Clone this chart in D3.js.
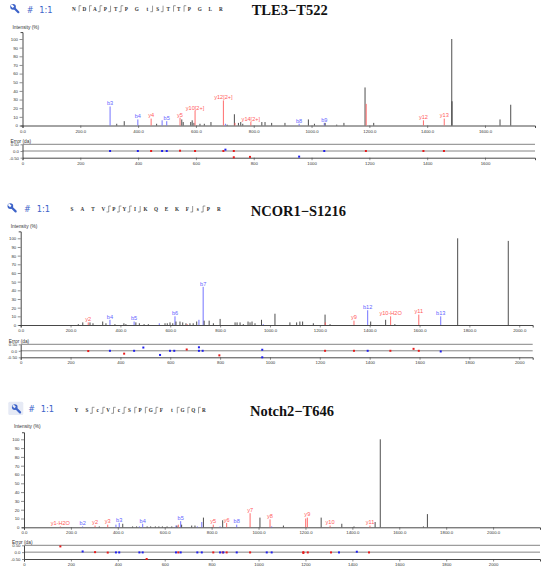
<!DOCTYPE html>
<html>
<head>
<meta charset="utf-8">
<script src="https://cdn.jsdelivr.net/npm/d3@7"></script>
<style>
  body { margin: 0; background: #fff; }
  svg { display: block; }
</style>
</head>
<body>
<div id="chart"></div>
<script>
// ---- data: [m/z, intensity %, ion type, label]  (n = unmatched, b = b ion, y = y ion)
const TLE3_TITLE = "TLE3\u2212T522";
const TLE3_SEQ = "NDAPTPGtSTTPGLR";
const TLE3_MZMAX = 1773;
const TLE3_PEAKS = [
  [303, 22, "b", "b3"], [326, 2, "n"], [352, 5, "n"], [399, 7, "b", "b4"],
  [445, 8, "y", "y4"], [464, 2, "n"], [483, 6, "b"], [499, 5, "b", "b5"],
  [545, 9, "y", "y5"], [551, 7, "n"], [556, 4, "n"], [582, 4, "n"], [587, 6, "n"],
  [593, 3, "n"], [597, 17, "y", "y10[2+]"], [614, 2, "n"], [629, 2, "n"],
  [652, 4, "n"], [695, 29, "y", "y12[2+]"], [702, 2, "b"], [708, 1, "n"],
  [733, 13, "n"], [735, 3, "y"], [747, 3, "n"], [755, 4, "n"], [762, 2, "n"],
  [790, 4, "y", "y14[2+]"], [828, 4, "n"], [839, 4, "n"], [862, 3, "n"],
  [908, 3, "n"], [957, 2, "b", "b8"], [989, 7, "n"], [1010, 2, "n"],
  [1044, 3, "b", "b9"], [1047, 3, "n"], [1087, 1, "n"], [1112, 3, "n"],
  [1185, 44, "n"], [1189, 25, "y"], [1215, 3, "n"], [1387, 6, "y", "y12"],
  [1459, 8, "y", "y13"], [1485, 100, "n"], [1486, 28, "n"], [1652, 7, "n"],
  [1689, 24, "n"]
];
// [m/z, error (da), ion type]
const TLE3_ERRORS = [
  [303, 0, "b"], [399, 0, "b"], [445, 0, "y"], [483, 0, "b"], [499, 0, "b"],
  [545, 0.02, "y"], [597, 0, "y"], [695, 0, "y"], [702, 0.1, "b"], [731, 0, "y"],
  [731, -0.47, "y"], [787, -0.44, "y"], [957, -0.42, "b"], [1044, 0, "b"],
  [1188, 0, "y"], [1387, 0, "y"], [1458, 0, "y"]
];

const NCOR1_TITLE = "NCOR1\u2212S1216";
const NCOR1_SEQ = "SATVPYIKQEKFsPR";
const NCOR1_MZMAX = 2054;
const NCOR1_PEAKS = [
  [231, 1, "n"], [249, 3, "n"], [271, 3, "y", "y2"], [278, 3, "n"], [290, 2, "n"],
  [329, 4, "n"], [342, 2, "n"], [358, 6, "b", "b4"], [378, 1, "n"], [414, 2, "n"],
  [422, 1, "n"], [455, 4, "b", "b5"], [462, 3, "n"], [476, 2, "n"], [495, 1, "n"],
  [512, 1, "n"], [556, 2, "b"], [579, 2, "n"], [588, 2, "n"], [599, 3, "n"],
  [610, 2, "n"], [619, 10, "b", "b6"], [623, 4, "n"], [639, 4, "n"], [650, 3, "n"],
  [663, 2, "n"], [668, 1, "y"], [679, 2, "n"], [692, 2, "n"], [706, 4, "n"],
  [715, 6, "b"], [732, 44, "b", "b7"], [736, 5, "n"], [756, 5, "n"], [773, 2, "n"],
  [800, 7, "n"], [860, 3, "n"], [868, 3, "n"], [880, 3, "n"], [893, 1, "n"],
  [912, 4, "n"], [920, 3, "n"], [928, 4, "n"], [940, 2, "n"], [966, 6, "n"],
  [973, 1, "b"], [1020, 13, "n"], [1080, 3, "n"], [1107, 3, "n"], [1120, 4, "n"],
  [1131, 4, "n"], [1174, 2, "n"], [1221, 12, "n"], [1222, 3, "y"], [1241, 1, "n"],
  [1337, 5, "y", "y9"], [1392, 17, "b", "b12"], [1404, 4, "n"], [1464, 6, "n"],
  [1484, 10, "y", "y10-H2O"], [1501, 1, "n"], [1597, 12, "y", "y11"],
  [1685, 10, "b", "b13"], [1753, 100, "n"], [1956, 97, "n"]
];
const NCOR1_ERRORS = [
  [271, -0.02, "y"], [358, 0, "b"], [415, -0.22, "y"], [455, 0, "b"], [492, 0.25, "b"],
  [559, -0.32, "b"], [599, 0, "b"], [616, 0, "b"], [666, 0.1, "y"], [715, 0.27, "b"],
  [715, 0, "b"], [730, 0, "b"], [797, -0.35, "y"], [969, 0.08, "b"], [969, -0.5, "b"],
  [1221, 0, "y"], [1337, 0, "y"], [1392, 0, "b"], [1483, 0, "y"], [1576, 0.15, "y"],
  [1597, 0, "y"], [1685, -0.05, "b"]
];

const NOTCH2_TITLE = "Notch2\u2212T646";
const NOTCH2_SEQ = "YScVcSPGFtGQR";
const NOTCH2_MZMAX = 2200;
const NOTCH2_PEAKS = [
  [155, 1, "y", "y1-H2O"], [250, 1, "b", "b2"], [303, 2, "y", "y2"], [321, 1, "n"],
  [357, 3, "y", "y3"], [392, 3, "b"], [406, 5, "b", "b3"], [421, 4, "n"], [463, 1, "n"],
  [480, 1, "n"], [492, 1, "b"], [506, 4, "b", "b4"], [525, 1, "n"], [540, 1, "n"],
  [560, 1, "n"], [575, 1, "n"], [590, 1, "n"], [610, 1, "n"], [630, 1, "n"],
  [648, 2, "b"], [652, 2, "n"], [658, 3, "y"], [668, 7, "b", "b5"], [672, 3, "n"],
  [715, 2, "n"], [729, 2, "n"], [739, 1, "b"], [758, 6, "b"], [765, 11, "n"],
  [807, 3, "y", "y5"], [836, 1, "b"], [847, 8, "n"], [864, 5, "y", "y6"],
  [907, 3, "b", "b8"], [964, 16, "y", "y7"], [1006, 11, "n"], [1049, 9, "y", "y8"],
  [1056, 1, "b"], [1106, 2, "n"], [1201, 10, "y"], [1208, 11, "y", "y9"],
  [1267, 11, "n"], [1305, 2, "y", "y10"], [1355, 4, "n"], [1407, 1, "n"],
  [1475, 2, "y", "y11"], [1497, 6, "n"], [1519, 100, "n"], [1703, 1, "n"],
  [1720, 15, "n"]
];
const NOTCH2_ERRORS = [
  [155, 0.42, "y"], [250, 0.05, "b"], [303, 0, "y"], [357, -0.03, "y"], [392, -0.02, "b"],
  [406, -0.02, "b"], [492, -0.02, "b"], [506, -0.02, "b"], [523, -0.5, "y"],
  [648, -0.02, "b"], [658, -0.02, "y"], [668, -0.02, "b"], [739, -0.02, "b"],
  [758, -0.02, "b"], [807, -0.02, "y"], [836, -0.02, "b"], [847, -0.02, "y"],
  [850, -0.02, "b"], [864, -0.02, "y"], [907, -0.02, "b"], [964, -0.02, "y"],
  [1035, -0.02, "b"], [1056, -0.02, "b"], [1191, 0, "y"], [1191, -0.06, "y"],
  [1210, -0.02, "y"], [1309, -0.02, "y"], [1343, -0.02, "b"], [1419, 0.03, "b"],
  [1471, -0.02, "y"]
];

// ---- layout (pixel positions of each panel)
const LAYOUTS = [
  { x0: 22.5, x1: 535, head: 12.7, intY: 29, y100: 39, base: 125.5,
    e50: 144.3, e0: 151, em50: 157.7, seqX: 73.8, seqDx: 10.5, seqY: 10.7,
    wrench: [10, 3.8], hashX: 26.7, ratioX: 39.3, titleX: 251.7, titleY: 15.3, box: false },
  { x0: 20.7, x1: 532.7, head: 211.7, intY: 227.5, y100: 238.3, base: 325,
    e50: 344.3, e0: 350.3, em50: 357.3, seqX: 72, seqDx: 10.49, seqY: 211,
    wrench: [7.3, 203], hashX: 24, ratioX: 36.7, titleX: 250.7, titleY: 215.7, box: false },
  { x0: 24, x1: 540, head: 412.3, intY: 428, y100: 439.3, base: 527.3,
    e50: 545.3, e0: 552.7, em50: 559, seqX: 76.3, seqDx: 10.63, seqY: 412.3,
    wrench: [11.7, 404], hashX: 28.3, ratioX: 40.7, titleX: 250, titleY: 415.7, box: true }
];

const PANELS = [
  { title: TLE3_TITLE, seq: TLE3_SEQ, mzMax: TLE3_MZMAX, peaks: TLE3_PEAKS, errors: TLE3_ERRORS },
  { title: NCOR1_TITLE, seq: NCOR1_SEQ, mzMax: NCOR1_MZMAX, peaks: NCOR1_PEAKS, errors: NCOR1_ERRORS },
  { title: NOTCH2_TITLE, seq: NOTCH2_SEQ, mzMax: NOTCH2_MZMAX, peaks: NOTCH2_PEAKS, errors: NOTCH2_ERRORS }
];

const peakColors = { n: "#3a3a3a", b: "#6464ff", y: "#ff5c5c" };
const dotColors = { b: "#2020ee", y: "#e81c1c" };
const headBlue = "#3d63c9";
const SANS = "Liberation Sans, Arial, sans-serif";

const svg = d3.select("#chart")
  .append("svg")
  .attr("width", 550)
  .attr("height", 571);

function styleAxis(g) {
  g.attr("font-family", SANS).attr("font-size", 4.3);
  g.select(".domain").attr("stroke", "#333").attr("stroke-width", 0.9);
  g.selectAll(".tick line").attr("stroke", "#444").attr("stroke-width", 0.6);
  g.selectAll(".tick text").attr("fill", "#333");
}

function drawWrench(g, [wx, wy], bg) {
  const w = g.append("g").attr("transform", `translate(${wx},${wy}) scale(0.95)`);
  w.append("line")
    .attr("x1", 3.6).attr("y1", 3.6).attr("x2", 8.8).attr("y2", 8.8)
    .attr("stroke", headBlue).attr("stroke-width", 2.3).attr("stroke-linecap", "round");
  w.append("circle").attr("cx", 3.2).attr("cy", 3.2).attr("r", 3).attr("fill", headBlue);
  w.append("rect")
    .attr("x", -1.1).attr("y", -0.2).attr("width", 2.2).attr("height", 3.4)
    .attr("transform", "translate(1.4,1.4) rotate(-45)")
    .attr("fill", bg);
}

function drawPanel(p, L) {
  const g = svg.append("g");

  // header
  if (L.box) {
    g.append("rect")
      .attr("x", 8.3).attr("y", 401.7).attr("width", 15).attr("height", 13.3)
      .attr("rx", 1.5).attr("fill", "#e6eaf5");
  }
  drawWrench(g, L.wrench, L.box ? "#e6eaf5" : "#fff");
  g.append("text").attr("x", L.hashX).attr("y", L.head)
    .attr("font-family", "DejaVu Sans, sans-serif").attr("font-size", 8)
    .attr("fill", headBlue).text("#");
  g.append("text").attr("x", L.ratioX).attr("y", L.head)
    .attr("font-family", "DejaVu Sans, sans-serif").attr("font-size", 8.3)
    .attr("fill", headBlue).text("1:1");

  // sequence with cleavage marks derived from the matched ion labels
  const residues = p.seq.split("");
  const n = residues.length;
  const seqX = (i) => L.seqX + i * L.seqDx;
  g.append("g").selectAll("text").data(residues).join("text")
    .attr("x", (d, i) => seqX(i)).attr("y", L.seqY)
    .attr("text-anchor", "middle")
    .attr("font-family", "Liberation Serif, serif").attr("font-weight", "bold")
    .attr("font-size", 5.2).attr("fill", "#333")
    .text((d) => d.toUpperCase() === d ? d : d);

  const cuts = new Map();
  p.peaks.filter((d) => d[3]).forEach((d) => {
    const k = +d[3].match(/^[by](\d+)/)[1];
    const after = d[2] === "b" ? k : n - k;
    if (after < 1 || after >= n) return;
    const c = cuts.get(after) || { b: false, y: false };
    c[d[2]] = true;
    cuts.set(after, c);
  });
  const marks = g.append("g").attr("stroke", "#555").attr("stroke-width", 0.6).attr("fill", "none");
  cuts.forEach((c, after) => {
    const mx = (seqX(after - 1) + seqX(after)) / 2;
    const top = L.seqY - 5, bot = L.seqY + 1;
    let dPath = `M${mx},${top}L${mx},${bot}`;
    if (c.y) dPath += `M${mx},${top}L${mx + 2.2},${top}`;
    if (c.b) dPath += `M${mx},${bot}L${mx - 2.2},${bot}`;
    marks.append("path").attr("d", dPath);
  });

  g.append("text").attr("x", L.titleX).attr("y", L.titleY)
    .attr("font-family", "Liberation Serif, Times New Roman, serif")
    .attr("font-weight", "bold").attr("font-size", 14.5).attr("fill", "#111")
    .text(p.title);

  // spectrum scales
  const x = d3.scaleLinear().domain([0, p.mzMax]).range([L.x0, L.x1]);
  const yTop = L.base - (L.base - L.y100) * 1.08;
  const y = d3.scaleLinear().domain([0, 108]).range([L.base, yTop]);
  const mzTicks = d3.range(0, p.mzMax, 200);

  g.append("text").attr("x", L.x0 - 10).attr("y", L.intY)
    .attr("font-family", SANS).attr("font-size", 4.8).attr("fill", "#333")
    .text("Intensity (%)");

  g.append("g").attr("transform", `translate(${L.x0},0)`)
    .call(d3.axisLeft(y).tickValues(d3.range(0, 101, 10)).tickSize(3).tickSizeOuter(2).tickPadding(1.5))
    .call(styleAxis);

  g.append("g").attr("transform", `translate(0,${L.base})`)
    .call(d3.axisBottom(x).tickValues(mzTicks).tickFormat(d3.format(".1f"))
      .tickSize(2.5).tickSizeOuter(2.5).tickPadding(1.5))
    .call(styleAxis);

  const peaks = g.append("g").attr("stroke-width", 0.9);
  peaks.selectAll("line").data(p.peaks).join("line")
    .attr("x1", (d) => x(d[0])).attr("x2", (d) => x(d[0]))
    .attr("y1", y(0)).attr("y2", (d) => y(d[1]))
    .attr("stroke", (d) => peakColors[d[2]]);

  g.append("g").attr("font-family", SANS).attr("font-size", 5.6).attr("text-anchor", "middle")
    .selectAll("text").data(p.peaks.filter((d) => d[3])).join("text")
    .attr("x", (d) => x(d[0])).attr("y", (d) => y(d[1]) - 1.2)
    .attr("fill", (d) => peakColors[d[2]])
    .text((d) => d[3]);

  // error plot
  const e = d3.scaleLinear().domain([-0.5, 0.5]).range([L.em50, L.e50]);
  g.append("text").attr("x", L.x0 - 12).attr("y", L.e50 - 1.8)
    .attr("font-family", SANS).attr("font-size", 4.8).attr("fill", "#333")
    .text("Error (da)");

  g.append("g").attr("stroke", "#777").attr("stroke-width", 0.9)
    .selectAll("line").data([0.5, 0]).join("line")
    .attr("x1", L.x0).attr("x2", L.x1)
    .attr("y1", (d) => e(d)).attr("y2", (d) => e(d));

  g.append("g").attr("transform", `translate(${L.x0},0)`)
    .call(d3.axisLeft(e).tickValues([-0.5, 0, 0.5])
      .tickFormat((d) => (d === 0 ? "0.0" : d.toFixed(2)))
      .tickSize(2).tickSizeOuter(0).tickPadding(1.5))
    .call(styleAxis);

  g.append("g").attr("transform", `translate(0,${L.em50})`)
    .call(d3.axisBottom(x).tickValues(mzTicks).tickFormat(d3.format("d"))
      .tickSize(2.5).tickSizeOuter(2.5).tickPadding(1.5))
    .call(styleAxis);

  g.append("g").selectAll("rect").data(p.errors).join("rect")
    .attr("x", (d) => x(d[0]) - 1).attr("y", (d) => e(d[1]) - 1)
    .attr("width", 2).attr("height", 2)
    .attr("fill", (d) => dotColors[d[2]]);
}

PANELS.forEach((p, i) => drawPanel(p, LAYOUTS[i]));
</script>
</body>
</html>
